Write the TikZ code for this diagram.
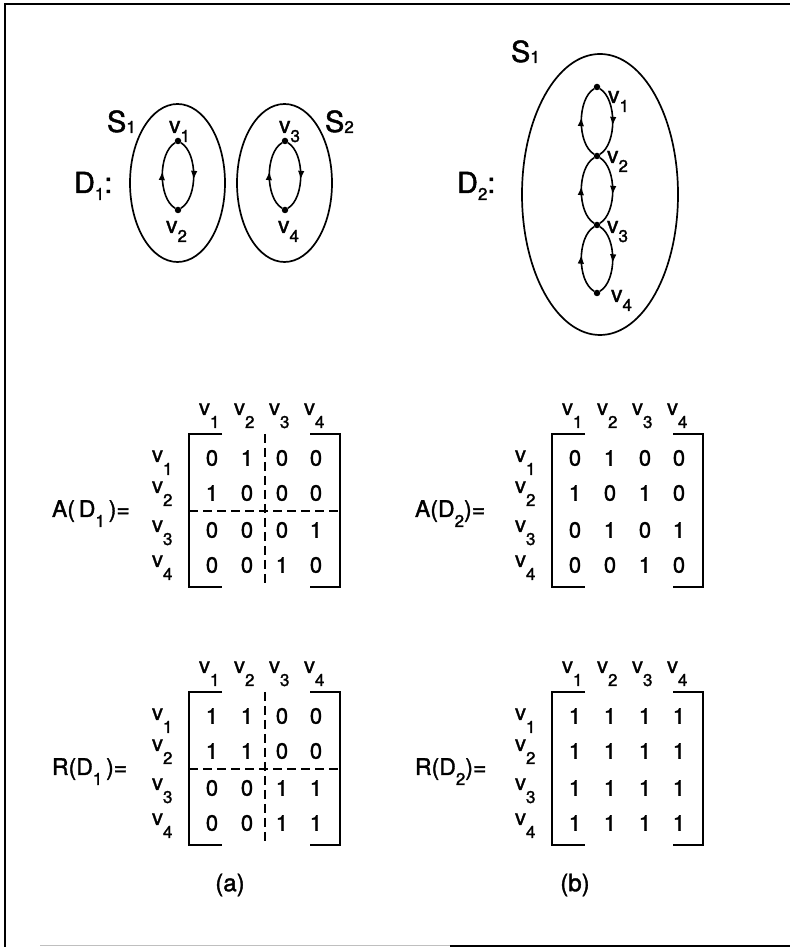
\documentclass[tikz,border=0pt]{standalone}
\usepackage{fontspec}
\setmainfont{TeX Gyre Heros}[FakeBold=1.5]
\usetikzlibrary{arrows.meta,decorations.markings}

\newcommand\fs[1]{\fontsize{#1}{#1}\selectfont}
% lowered subscript: #1 = drop below the baseline, #2 = text
\newcommand\sub[2]{\raisebox{-#1}{\fs{17pt}#2}}

\tikzset{
  lbl/.style={anchor=base west, inner sep=0pt, outer sep=0pt},
  ent/.style={inner sep=0pt, font=\fs{22pt}},
  dot/.style={circle, fill, inner sep=0pt, minimum size=6.5pt},
  setline/.style={line width=1.7pt},
  darc/.style={line width=1.6pt, postaction={decorate},
    decoration={markings, mark=at position 0.56 with {\arrow{Latex[length=9pt,width=6.5pt]}}}},
  brk/.style={line width=1.7pt},
  part/.style={line width=1.5pt, dash pattern=on 9pt off 5pt},
  frame/.style={line width=2pt},
}

% a 4x4 labelled 0/1 matrix: #1 name, #2 shift, #3 caption, #4 entries
\newcommand\adjmat[4]{%
\begin{scope}[shift={#2}]
  \node[lbl] (#1-name) at (52,430) {\fs{23pt}#3};
  \foreach \c [count=\k] in {199,234,269,304}
    \node[lbl] (#1-col\k) at (\c,532) {\fs{22pt}v\sub{13pt}{\k}};
  \foreach \r [count=\k] in {485,454,415,380}
    \node[lbl] (#1-row\k) at (152,\r) {\fs{22pt}v\sub{13pt}{\k}};
  \foreach \e [count=\k from 0] in {#4} {
    \pgfmathtruncatemacro\ri{div(\k,4)}
    \pgfmathtruncatemacro\ci{mod(\k,4)}
    \pgfmathsetmacro\ex{{212,247,282,316}[\ci]}
    \pgfmathsetmacro\ey{{489,454,417,382}[\ri]}
    \node[ent] (#1-e\ri\ci) at (\ex,\ey) {\e};
  }
  \draw[brk] (222,513) -- (189,513) -- (189,360) -- (222,360);
  \draw[brk] (310,513) -- (340,513) -- (340,360) -- (310,360);
\end{scope}}

\begin{document}
\begin{tikzpicture}[x=1pt,y=1pt]
\useasboundingbox (0,0) rectangle (790,947);

% frame
\draw[frame] (5,0) -- (5,943) -- (790,943);
\draw[gray!50, line width=1pt] (40,1) -- (450,1);
\draw[line width=1.2pt] (450,1) -- (790,1);

% ---- digraph D1 ----
\draw[setline] (177.5,764) ellipse [x radius=47.5, y radius=79];
\draw[setline] (284.5,764) ellipse [x radius=47.5, y radius=79];
\node[dot] (a1) at (178,806) {};
\node[dot] (a2) at (178,737) {};
\node[dot] (a3) at (285,806) {};
\node[dot] (a4) at (285,737) {};
\draw[darc] (a2) .. controls +(-20,12) and +(-20,-12) .. (a1);
\draw[darc] (a1) .. controls +(20,-12) and +(20,12) .. (a2);
\draw[darc] (a4) .. controls +(-20,12) and +(-20,-12) .. (a3);
\draw[darc] (a3) .. controls +(20,-12) and +(20,12) .. (a4);
\node[lbl] (sa1) at (107,815) {\fs{29pt}S\sub{1pt}{1}};
\node[lbl] (sa2) at (325,815) {\fs{29pt}S\sub{1pt}{2}};
\node[lbl] (dd1) at (74,754) {\fs{29pt}D\sub{7pt}{1}:};
\node[lbl] (la1) at (169,814) {\fs{23pt}v\sub{9pt}{1}};
\node[lbl] (la2) at (166,714) {\fs{23pt}v\sub{9pt}{2}};
\node[lbl] (la3) at (279,814) {\fs{23pt}v\sub{9pt}{3}};
\node[lbl] (la4) at (278,714) {\fs{23pt}v\sub{9pt}{4}};

% ---- digraph D2 ----
\draw[setline] (600,752.5) ellipse [x radius=78, y radius=140.5];
\node[dot] (b1) at (597,860) {};
\node[dot] (b2) at (597,791) {};
\node[dot] (b3) at (597,722) {};
\node[dot] (b4) at (597,654) {};
\foreach \u/\w in {b1/b2, b2/b3, b3/b4} {
  \draw[darc] (\w) .. controls +(-20,12) and +(-20,-12) .. (\u);
  \draw[darc] (\u) .. controls +(20,-12) and +(20,12) .. (\w);
}
\node[lbl] (sb1) at (511,885) {\fs{29pt}S\sub{1pt}{1}};
\node[lbl] (dd2) at (457,754) {\fs{29pt}D\sub{7pt}{2}:};
\node[lbl] (lb1) at (608,844) {\fs{23pt}v\sub{9pt}{1}};
\node[lbl] (lb2) at (607,784) {\fs{23pt}v\sub{9pt}{2}};
\node[lbl] (lb3) at (607,714) {\fs{23pt}v\sub{9pt}{3}};
\node[lbl] (lb4) at (611,645) {\fs{23pt}v\sub{9pt}{4}};

% ---- matrices ----
\adjmat{AD1}{(0,0)}{A(\,D\sub{10pt}{1}\,)=}{0,1,0,0, 1,0,0,0, 0,0,0,1, 0,0,1,0}
\adjmat{AD2}{(363,0)}{A(D\sub{10pt}{2})=}{0,1,0,0, 1,0,1,0, 0,1,0,1, 0,0,1,0}
\adjmat{RD1}{(0,-258)}{R(D\sub{10pt}{1}\,)=}{1,1,0,0, 1,1,0,0, 0,0,1,1, 0,0,1,1}
\adjmat{RD2}{(363,-258)}{R(D\sub{10pt}{2})=}{1,1,1,1, 1,1,1,1, 1,1,1,1, 1,1,1,1}

% block partitions for D1
\draw[part] (265,513) -- (265,360);
\draw[part] (189,436) -- (340,436);
\draw[part] (265,255) -- (265,102);
\draw[part] (189,178) -- (340,178);

% captions
\node[font=\fs{24pt}] (capa) at (230,62) {(a)};
\node[font=\fs{24pt}] (capb) at (575,62) {(b)};
\end{tikzpicture}
\end{document}
